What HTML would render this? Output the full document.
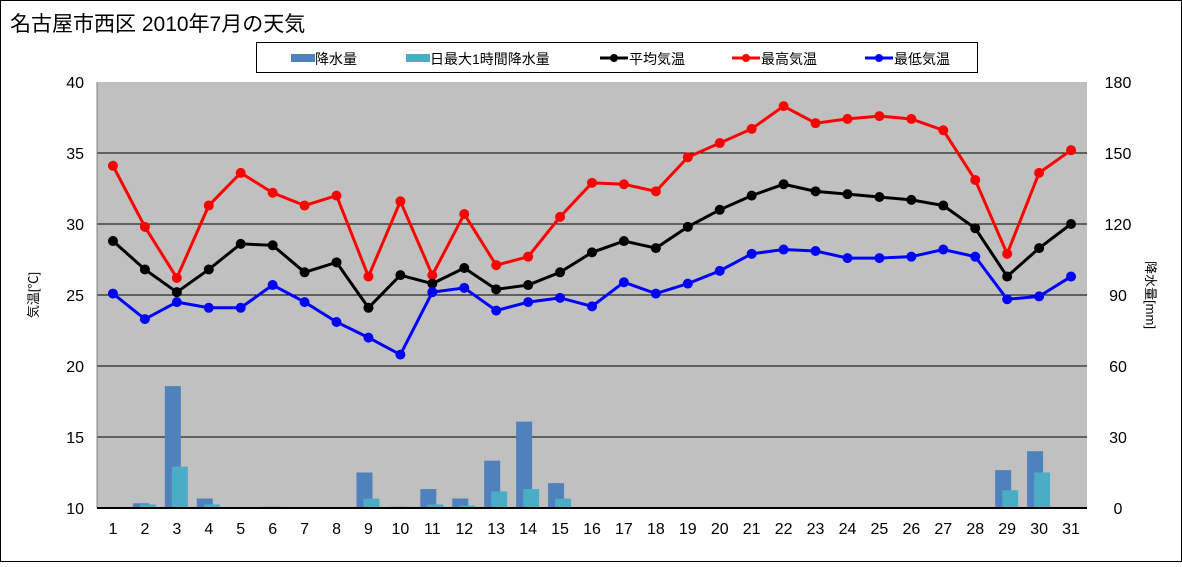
<!DOCTYPE html>
<html><head><meta charset="utf-8"><style>
body{margin:0;background:#fff;font-family:"Liberation Sans","Noto Sans CJK JP",sans-serif}
svg text{font-family:"Liberation Sans","Noto Sans CJK JP",sans-serif}
</style></head><body>
<svg id="c" width="1182" height="562" xmlns="http://www.w3.org/2000/svg">
<rect x="0.5" y="0.5" width="1181" height="561" fill="#fff" stroke="#000"/>
<text x="10" y="31" font-size="21">名古屋市西区  2010年7月の天気</text>
<g>
<rect x="256.5" y="42.5" width="721" height="30" fill="#fff" stroke="#000"/>
<g><rect x="291" y="54" width="24" height="8" fill="#4f81bd"/><text x="315" y="64" font-size="14">降水量</text></g>
<g><rect x="406" y="54" width="24" height="8" fill="#4bacc6"/><text x="430" y="64" font-size="14">日最大1時間降水量</text></g>
<g><line x1="600" y1="58" x2="628" y2="58" stroke="#000" stroke-width="3"/><circle cx="614" cy="58" r="4"/><text x="629" y="64" font-size="14">平均気温</text></g>
<g><line x1="732" y1="58" x2="760" y2="58" stroke="#f00" stroke-width="3"/><circle cx="746" cy="58" r="4" fill="#f00"/><text x="761" y="64" font-size="14">最高気温</text></g>
<g><line x1="865" y1="58" x2="893" y2="58" stroke="#00f" stroke-width="3"/><circle cx="879" cy="58" r="4" fill="#00f"/><text x="894" y="64" font-size="14">最低気温</text></g>
</g>
<rect x="97" y="82" width="990" height="426" fill="#c0c0c0"/>
<g id="grid"></g><g id="bars"></g><g id="lines"></g><g id="axes"></g>
<text transform="translate(38,295) rotate(-90)" font-size="13" text-anchor="middle">気温[℃]</text>
<text transform="translate(1146,295) rotate(90)" font-size="13" text-anchor="middle">降水量[mm]</text>
</svg>
<script>
const days=[1,2,3,4,5,6,7,8,9,10,11,12,13,14,15,16,17,18,19,20,21,22,23,24,25,26,27,28,29,30,31];
const rain=[0,2,51.5,4,0,0.5,0,0,15,0.5,8,4,20,36.5,10.5,0,0,0,0,0,0,0,0,0,0,0,0,0,16,24,0];
const rainHourly=[0,1.5,17.5,1.5,0,0.5,0,0,4,0.5,1.5,1,7,8,4,0,0,0,0,0,0,0,0,0,0,0,0,0,7.5,15,0];
const avgTemp=[28.8,26.8,25.2,26.8,28.6,28.5,26.6,27.3,24.1,26.4,25.8,26.9,25.4,25.7,26.6,28.0,28.8,28.3,29.8,31.0,32.0,32.8,32.3,32.1,31.9,31.7,31.3,29.7,26.3,28.3,30.0];
const maxTemp=[34.1,29.8,26.2,31.3,33.6,32.2,31.3,32.0,26.3,31.6,26.4,30.7,27.1,27.7,30.5,32.9,32.8,32.3,34.7,35.7,36.7,38.3,37.1,37.4,37.6,37.4,36.6,33.1,27.9,33.6,35.2];
const minTemp=[25.1,23.3,24.5,24.1,24.1,25.7,24.5,23.1,22.0,20.8,25.2,25.5,23.9,24.5,24.8,24.2,25.9,25.1,25.8,26.7,27.9,28.2,28.1,27.6,27.6,27.7,28.2,27.7,24.7,24.9,26.3];
const leftTicks=[10,15,20,25,30,35,40];
const rightTicks=[0,30,60,90,120,150,180];
const NS="http://www.w3.org/2000/svg";
const X0=97,X1=1087,YT=82,YB=508;
const step=(X1-X0)/days.length;
const xs=i=>X0+step*(i+0.5);
const yT=v=>YB-(v-10)/30*(YB-YT);
const yR=v=>YB-v/180*(YB-YT);
function mk(t,a,p){const e=document.createElementNS(NS,t);for(const k in a)e.setAttribute(k,a[k]);p.appendChild(e);return e;}
const grid=document.getElementById('grid'),bars=document.getElementById('bars'),lines=document.getElementById('lines'),axes=document.getElementById('axes');
leftTicks.forEach(v=>{
  if(v>10&&v<40){const g=mk('line',{x1:X0,x2:X1,y1:yT(v),y2:yT(v),stroke:'#000','stroke-width':1},grid);
  
  }
  const t=mk('text',{x:84,y:yT(v)+6,'font-size':16,'text-anchor':'end'},axes);t.textContent=v;
  
  
});
rightTicks.forEach(v=>{
  const t=mk('text',{x:1118,y:yR(v)+6,'font-size':16,'text-anchor':'middle'},axes);t.textContent=v;
  
  
});
mk('line',{x1:X0,x2:X0,y1:YT,y2:YB,stroke:'#808080'},axes);
mk('line',{x1:X0,x2:X1,y1:YB,y2:YB,stroke:'#000','stroke-width':2},axes);
days.forEach((d,i)=>{
  const t=mk('text',{x:xs(i),y:534,'font-size':16,'text-anchor':'middle'},axes);t.textContent=d;
  
  
  if(rain[i]>0){const b=mk('rect',{x:xs(i)-12,y:yR(rain[i]),width:16,height:YB-yR(rain[i]),fill:'#4f81bd'},bars);
  
  }
  if(rainHourly[i]>0){const b=mk('rect',{x:xs(i)-5,y:yR(rainHourly[i]),width:16,height:YB-yR(rainHourly[i]),fill:'#4bacc6'},bars);
  
  }
});
[[maxTemp,'#f00','max-temp'],[avgTemp,'#000','avg-temp'],[minTemp,'#00f','min-temp']].forEach(([arr,col,nm])=>{
  const p=mk('polyline',{points:arr.map((v,i)=>xs(i)+','+yT(v)).join(' '),fill:'none',stroke:col,'stroke-width':3},lines);
  
  
  arr.forEach((v,i)=>{const c=mk('circle',{cx:xs(i),cy:yT(v),r:5,fill:col},lines);
  
  });
});
</script>
</body></html>
